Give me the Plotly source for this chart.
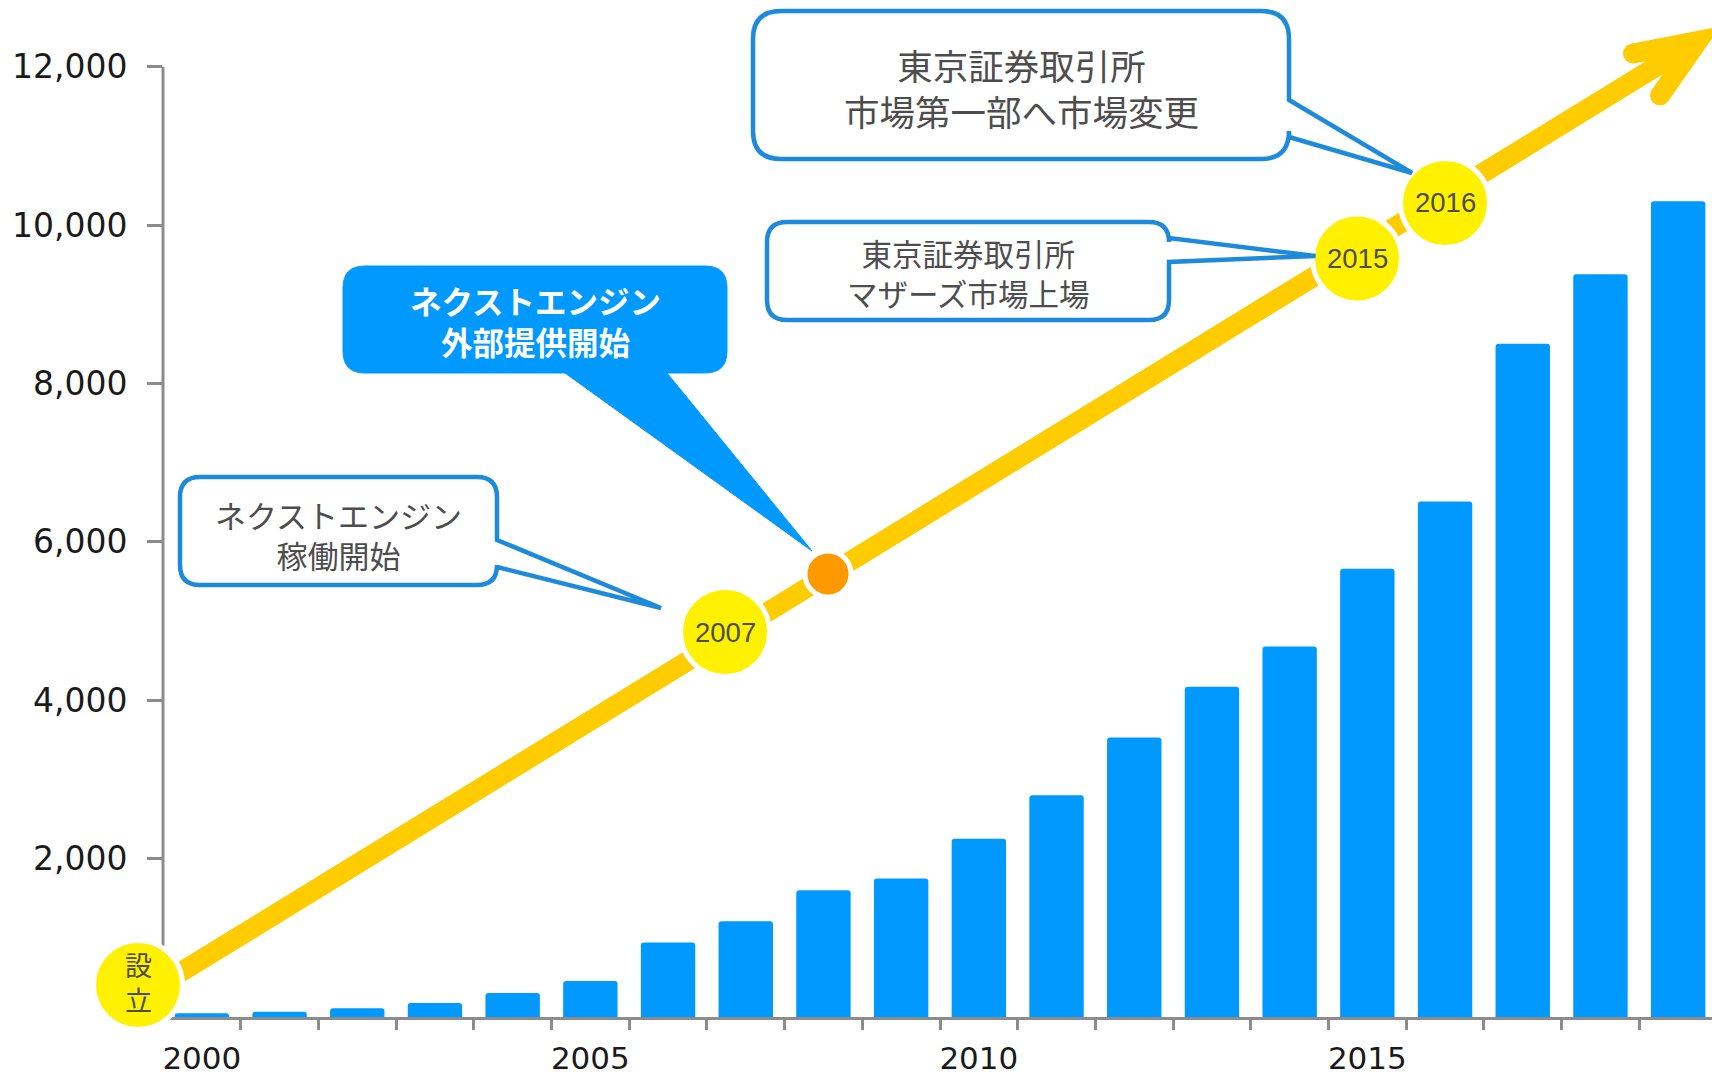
import plotly.graph_objects as go

# ---------------- data ----------------
years = list(range(2000, 2020))
values = [47, 67, 110, 177, 303, 455, 940, 1210, 1600, 1750,
          2250, 2800, 3530, 4170, 4680, 5660, 6510, 8500, 9380, 10300]
y_ticks = [2000, 4000, 6000, 8000, 10000, 12000]
y_tick_labels = ["2,000", "4,000", "6,000", "8,000", "10,000", "12,000"]
x_label_years = [2000, 2005, 2010, 2015]
x_tick_labels = ["2000", "2005", "2010", "2015"]

# milestone texts
m_found = ["設", "立"]
m_years = ["2007", "2015", "2016"]
c1_lines = ["ネクストエンジン", "稼働開始"]
c2_lines = ["ネクストエンジン", "外部提供開始"]
c3_lines = ["東京証券取引所", "マザーズ市場上場"]
c4_lines = ["東京証券取引所", "市場第一部へ市場変更"]

# ---------------- layout geometry (pixels) ----------------
W, H = 1712, 1076
ML, MB = 163, 59
PW = W - ML
PH = H - MB
CAT = 77.7
x_range = [1999.5, 1999.5 + PW / CAT]
y_max = 12000 * PH / (PH - 66.7)

GRAY = "#8C8C8C"
BLUE = "#0099FF"
EDGE = "#1E8BDA"
YEL = "#FFCC00"
CIRC = "#FFF100"
TXT = "#4D4D4D"
CJK = "Noto Sans CJK JP"


def xp(x):
    return (x - ML) / PW


def yp(y):
    return (PH - y) / PH


def pt(x, y):
    return f"{xp(x):.5f},{yp(y):.5f}"


def callout_path(x0, y0, x1, y1, r, side, p1, p2, tip):
    s = f"M{pt(x0 + r, y0)} L{pt(x1 - r, y0)} Q{pt(x1, y0)} {pt(x1, y0 + r)} "
    if side == "right":
        s += f"L{pt(x1, p1)} L{pt(*tip)} L{pt(x1, p2)} "
    s += f"L{pt(x1, y1 - r)} Q{pt(x1, y1)} {pt(x1 - r, y1)} "
    if side == "bottom":
        s += f"L{pt(p2, y1)} L{pt(*tip)} L{pt(p1, y1)} "
    s += f"L{pt(x0 + r, y1)} Q{pt(x0, y1)} {pt(x0, y1 - r)} "
    s += f"L{pt(x0, y0 + r)} Q{pt(x0, y0)} {pt(x0 + r, y0)} Z"
    return s


fig = go.Figure()
fig.add_trace(go.Bar(x=years, y=values, width=0.7,
                     marker=dict(color=BLUE, cornerradius=3, line=dict(width=0)),
                     hoverinfo="x+y"))

shapes = []
# y axis line
shapes.append(dict(type="line", xref="paper", yref="y", x0=0, x1=0, y0=0, y1=12000,
                   line=dict(color=GRAY, width=3), layer="above"))
# yellow arrow shaft
shapes.append(dict(type="line", xref="paper", yref="paper",
                   x0=xp(150), y0=yp(991), x1=xp(1688), y1=yp(47),
                   line=dict(color=YEL, width=20), layer="above"))
# chevron
shapes.append(dict(type="path", xref="paper", yref="paper",
                   path=f"M{pt(1633, 53.5)} L{pt(1698, 41)} L{pt(1660, 95.5)}",
                   line=dict(color=YEL, width=20), fillcolor="rgba(0,0,0,0)", layer="above"))
for (cx, cy) in [(1633, 53.5), (1660, 95.5)]:
    shapes.append(dict(type="circle", xref="paper", yref="paper",
                       x0=xp(cx - 10), x1=xp(cx + 10), y0=yp(cy + 10), y1=yp(cy - 10),
                       fillcolor=YEL, line=dict(width=0), layer="above"))

# milestone circles
circles = [(138, 985, 44.5, CIRC), (725, 632, 44.5, CIRC), (828, 574, 23, "#FF9900"),
           (1357, 258.5, 44.5, CIRC), (1445, 203, 44.5, CIRC)]
for cx, cy, r, col in circles:
    shapes.append(dict(type="circle", xref="paper", yref="paper",
                       x0=xp(cx - r), x1=xp(cx + r), y0=yp(cy + r), y1=yp(cy - r),
                       fillcolor=col, line=dict(color="white", width=5), layer="above"))

# callouts
shapes.append(dict(type="path", xref="paper", yref="paper",
                   path=callout_path(180, 477, 497, 585, 20, "right", 540, 567, (661, 608)),
                   fillcolor="white", line=dict(color=EDGE, width=4.5), layer="above"))
shapes.append(dict(type="path", xref="paper", yref="paper",
                   path=callout_path(343, 266, 727, 373, 22, "bottom", 565, 667, (812, 551)),
                   fillcolor=BLUE, line=dict(color=BLUE, width=1), layer="above"))
shapes.append(dict(type="path", xref="paper", yref="paper",
                   path=callout_path(767, 222, 1169, 320, 20, "right", 238, 262, (1315.5, 256)),
                   fillcolor="white", line=dict(color=EDGE, width=4.5), layer="above"))
shapes.append(dict(type="path", xref="paper", yref="paper",
                   path=callout_path(753, 11, 1289, 159, 28, "right", 100, 137, (1412, 173)),
                   fillcolor="white", line=dict(color=EDGE, width=4.5), layer="above"))

ann = []


def text(lines, x, y, size, color=TXT, family=CJK, bold=False):
    s = "<br>".join(lines)
    ann.append(dict(text=f"<b>{s}</b>" if bold else s, xref="paper", yref="paper",
                    x=xp(x), y=yp(y), xanchor="center", yanchor="middle", showarrow=False,
                    align="center", font=dict(family=family, size=size, color=color)))


text(m_found, 138, 982, 27)
for s, (cx, cy) in zip(m_years, [(725, 632), (1357, 258.5), (1445, 203)]):
    text([s], cx, cy, 27.5, family="Liberation Sans, Arial")

text(c1_lines, 338.5, 534.5, 31)
text(c2_lines, 535, 320, 31.5, color="white", bold=True)
text(c3_lines, 968, 273, 30.5)
text(c4_lines, 1021, 88, 35.5)

fig.update_layout(
    width=W, height=H,
    margin=dict(l=ML, r=0, t=0, b=MB, pad=0),
    paper_bgcolor="white", plot_bgcolor="white",
    showlegend=False,
    shapes=shapes, annotations=ann,
    xaxis=dict(range=x_range, tickmode="array", tickvals=x_label_years, ticktext=x_tick_labels,
               ticks="", showline=True, linecolor=GRAY, linewidth=3, showgrid=False,
               zeroline=False, ticklabelstandoff=12,
               tickfont=dict(family="DejaVu Sans", size=31, color="#1A1A1A"),
               minor=dict(tickmode="array", tickvals=[y + 0.5 for y in years[:-1]],
                          ticks="outside", ticklen=10, tickwidth=3, tickcolor=GRAY,
                          showgrid=False)),
    yaxis=dict(range=[0, y_max], tickmode="array", tickvals=y_ticks, ticktext=y_tick_labels,
               ticks="outside", ticklen=15, tickwidth=3, tickcolor=GRAY,
               showline=False, showgrid=False, zeroline=False, ticklabelstandoff=13,
               tickfont=dict(family="DejaVu Sans", size=33, color="#1A1A1A")),
)

fig.write_html("out.html", config={"displayModeBar": False},
               post_script="document.body.style.margin='0px';document.body.style.overflow='hidden';")
